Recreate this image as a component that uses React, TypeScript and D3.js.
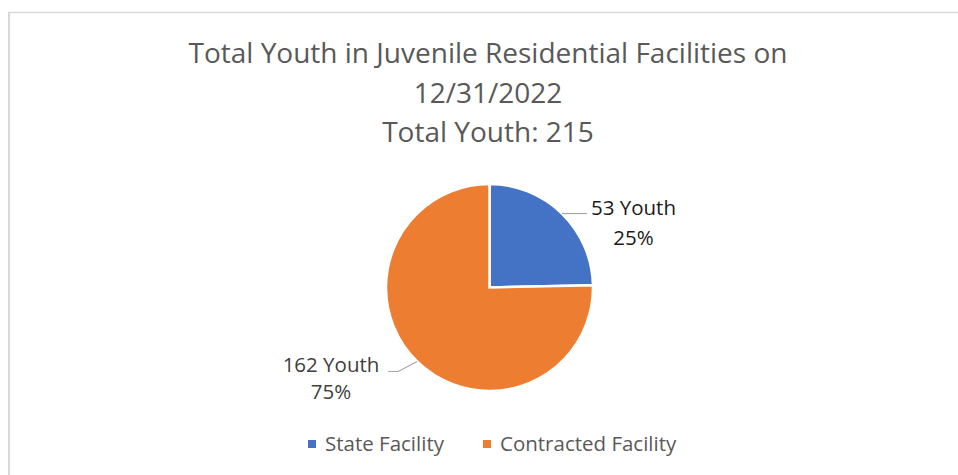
import React from "react";
import * as d3 from "d3";

const categories = ["State Facility", "Contracted Facility"];
const values = [53, 162];
const colors = ["#4472C4", "#ED7D31"];
const titleLines = ["Total Youth in Juvenile Residential Facilities on", "12/31/2022", "Total Youth: 215"];

const W = 958;
const H = 475;
const FONT = "'Open Sans', 'DejaVu Sans', sans-serif";

export default function App() {
  const cx = 489.5;
  const cy = 287.5;
  const r = 103.5;
  const total = d3.sum(values);
  const pie = d3.pie<number>().sort(null).value((d) => d)(values);
  const arc = d3.arc<d3.PieArcDatum<number>>().innerRadius(0).outerRadius(r);

  const labels = pie.map((p, i) => {
    const mid = (p.startAngle + p.endAngle) / 2;
    const ex = cx + Math.sin(mid) * r;
    const ey = cy - Math.cos(mid) * r;
    const pct = d3.format(".0%")(values[i] / total);
    const right = Math.sin(mid) > 0;
    return { ex, ey, pct, right, v: values[i] };
  });

  const legendY = 444;
  const legendItems = [
    { x: 308, text: categories[0], color: colors[0] },
    { x: 483, text: categories[1], color: colors[1] },
  ];

  return (
    <svg width={W} height={H} style={{ position: "absolute", left: 0, top: 0, background: "#fff" }} fontFamily={FONT}>
      <rect x={0} y={0} width={W} height={H} fill="#fff" />
      <line x1={8} y1={12.5} x2={W} y2={12.5} stroke="#d9d9d9" strokeWidth={1.5} />
      <line x1={9} y1={12} x2={9} y2={H} stroke="#d9d9d9" strokeWidth={2} />

      {titleLines.map((t, i) => (
        <text key={i} x={488} y={63 + i * 39.5} textAnchor="middle" fontSize={28} fill="#595959">
          {t}
        </text>
      ))}

      <g transform={`translate(${cx},${cy})`}>
        {pie.map((p, i) => (
          <path key={i} d={arc(p) || ""} fill={colors[i]} stroke="#fff" strokeWidth={2.5} strokeLinejoin="miter" />
        ))}
      </g>

      {labels.map((l, i) =>
        l.right ? (
          <g key={i}>
            <polyline points={`${l.ex},${l.ey} ${l.ex + 25},${l.ey}`} fill="none" stroke="#a6a6a6" strokeWidth={1.2} />
            <text x={633.5} y={l.ey + 1} textAnchor="middle" fontSize={20.5} fill="#1a1a1a">
              <tspan x={633.5}>{`${l.v} Youth`}</tspan>
              <tspan x={633.5} dy={30}>{l.pct}</tspan>
            </text>
          </g>
        ) : (
          <g key={i}>
            <polyline
              points={`${l.ex},${l.ey} ${l.ex - 19},${l.ey + 10} ${l.ex - 29},${l.ey + 10}`}
              fill="none"
              stroke="#a6a6a6"
              strokeWidth={1.2}
            />
            <text x={331} y={l.ey + 10.5} textAnchor="middle" fontSize={20.5} fill="#404040">
              <tspan x={331}>{`${l.v} Youth`}</tspan>
              <tspan x={331} dy={27}>{l.pct}</tspan>
            </text>
          </g>
        )
      )}

      {legendItems.map((it, i) => (
        <g key={i}>
          <rect x={it.x} y={legendY - 4} width={8} height={8} fill={it.color} />
          <text x={it.x + 17} y={legendY + 7} fontSize={20.5} fill="#595959">
            {it.text}
          </text>
        </g>
      ))}
    </svg>
  );
}
